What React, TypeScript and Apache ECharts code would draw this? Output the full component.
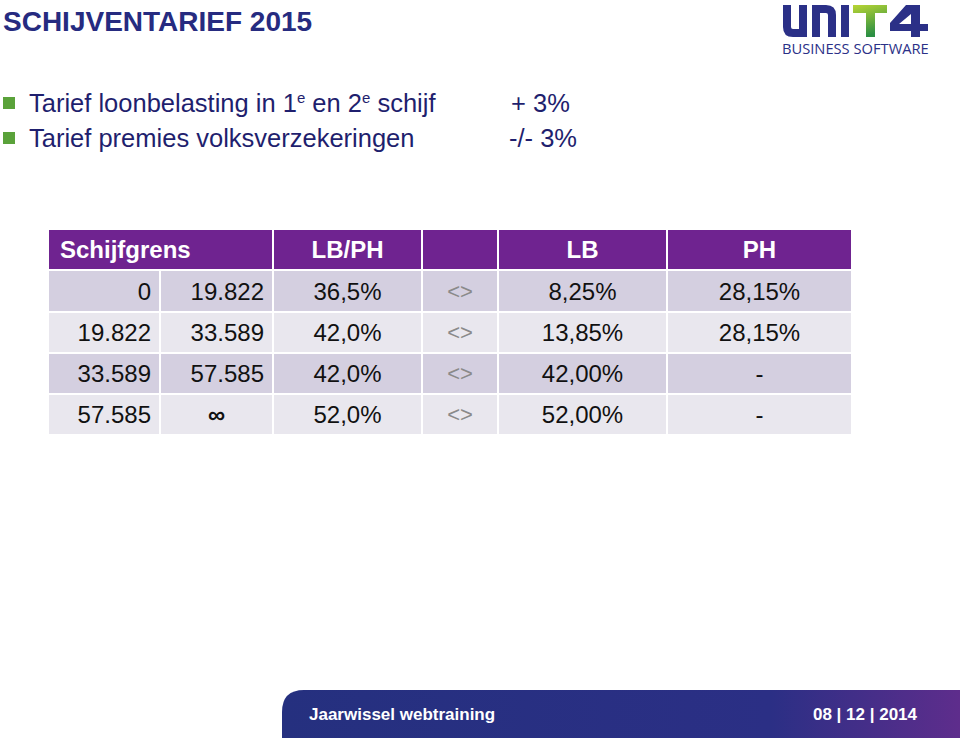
import React, { useEffect, useRef } from 'react';
import * as echarts from 'echarts';

// ---------- content ----------
const titleText = 'SCHIJVENTARIEF 2015';
const bulletLabels = [
  '{n|Tarief loonbelasting in 1}{s|e}{n| en 2}{s|e}{n| schijf}',
  '{n|Tarief premies volksverzekeringen}',
];
const bulletValues = ['+ 3%', '-/- 3%'];

const headerLabels = ['Schijfgrens', 'LB/PH', '', 'LB', 'PH'];
const bracketFrom = ['0', '19.822', '33.589', '57.585'];
const bracketTo = ['19.822', '33.589', '57.585', '∞'];
const rateLbPh = ['36,5%', '42,0%', '42,0%', '52,0%'];
const separatorSign = ['<>', '<>', '<>', '<>'];
const rateLb = ['8,25%', '13,85%', '42,00%', '52,00%'];
const ratePh = ['28,15%', '28,15%', '-', '-'];

const logoWord = 'BUSINESS SOFTWARE';
const footerLeft = 'Jaarwissel webtraining';
const footerRight = '08 | 12 | 2014';

// ---------- layout ----------
const FONT = '"Liberation Sans", Arial, Helvetica, sans-serif';
const NAVY = '#262b80';
const TEXT_NAVY = '#1f1f6e';
const colX = [48, 160, 273, 422, 498, 667, 852];
const rowY = [229, 270, 312, 353, 394, 435];
const headerSpans = [[0, 2], [2, 3], [3, 4], [4, 5], [5, 6]];
const colAlign = ['right', 'right', 'center', 'center', 'center', 'center'];

let shapesRegistered = false;
function registerShapes() {
  if (shapesRegistered) return;
  shapesRegistered = true;
  echarts.graphic.registerShape(
    'logoUni',
    echarts.graphic.extendPath(
      'M783 5 H791 V27 Q791 29 793 29 H799 V5 H807 V37 H793 Q783 37 783 27 Z ' +
        'M812 37 V5 H826 Q836 5 836 15 V37 H828 V15 Q828 13 826 13 H820 V37 Z ' +
        'M841 5 H849 V37 H841 Z ' +
        'M906 5 H920 V24 H928 V31 H920 V37 H911 V31 H890 V23 Z M911 14 L899 24 H911 Z',
      {}
    )
  );
  echarts.graphic.registerShape(
    'logoT',
    echarts.graphic.extendPath('M853 5 H887 V13 H875 V37 H866 V13 H853 Z', {})
  );
  echarts.graphic.registerShape(
    'footerBar',
    echarts.graphic.extendPath('M282 738 V712 Q282 690 304 690 H960 V738 Z', {})
  );
}

function textEl(x: number, y: number, text: string, opts: any) {
  return {
    type: 'text',
    x,
    y,
    silent: true,
    style: {
      text,
      fontFamily: FONT,
      textAlign: opts.align || 'left',
      align: opts.align || 'left',
      textVerticalAlign: 'middle',
      verticalAlign: 'middle',
      fontSize: opts.size,
      fontWeight: opts.weight || 'normal',
      fill: opts.fill,
      rich: opts.rich,
    },
  };
}

function buildOption() {
  const els: any[] = [];

  // Title
  els.push(textEl(3, 21, titleText, { size: 28, weight: 'bold', fill: NAVY }));

  // Logo
  els.push({ type: 'logoUni', x: 0, y: 0, silent: true, style: { fill: '#2b3087' } });
  els.push({
    type: 'logoT',
    x: 0,
    y: 0,
    silent: true,
    style: {
      fill: new echarts.graphic.LinearGradient(0, 0, 0.3, 1, [
        { offset: 0, color: '#b9d534' },
        { offset: 1, color: '#2c8f44' },
      ]),
    },
  });
  els.push({
    type: 'text',
    x: 782,
    y: 48,
    silent: true,
    style: {
      text: logoWord,
      fontFamily: '"Open Sans", "Noto Sans", sans-serif',
      fontSize: 14.7,
      fill: '#2b3087',
      align: 'left',
      textAlign: 'left',
      verticalAlign: 'middle',
      textVerticalAlign: 'middle',
    },
  });

  // Bullets
  const bulletY = [103, 138];
  bulletLabels.forEach((lab, i) => {
    const y = bulletY[i];
    els.push({ type: 'rect', silent: true, shape: { x: 3, y: y - 6, width: 12, height: 12 }, style: { fill: '#5aa23a' } });
    els.push(
      textEl(29, y, lab, {
        size: 25.5,
        fill: TEXT_NAVY,
        rich: {
          n: { fontSize: 25.5, fontFamily: FONT, fill: TEXT_NAVY, lineHeight: 26 },
          s: { fontSize: 15, fontFamily: FONT, fill: TEXT_NAVY, lineHeight: 15, verticalAlign: 'top' },
        },
      })
    );
    els.push(textEl(i === 0 ? 511 : 509, y, bulletValues[i], { size: 25.5, fill: TEXT_NAVY }));
  });

  // Table header
  headerSpans.forEach(([a, b], i) => {
    const x0 = colX[a] + 1;
    const x1 = colX[b] - 1;
    els.push({
      type: 'rect',
      silent: true,
      shape: { x: x0, y: rowY[0] + 1, width: x1 - x0, height: rowY[1] - rowY[0] - 2 },
      style: { fill: '#6f2390' },
    });
    const cy = (rowY[0] + rowY[1]) / 2;
    if (i === 0) {
      els.push(textEl(60, cy, headerLabels[i], { size: 24, weight: 'bold', fill: '#ffffff' }));
    } else if (headerLabels[i]) {
      els.push(textEl((x0 + x1) / 2, cy, headerLabels[i], { size: 24, weight: 'bold', fill: '#ffffff', align: 'center' }));
    }
  });

  // Table body
  bracketFrom.forEach((_, r) => {
    const cells = [bracketFrom[r], bracketTo[r], rateLbPh[r], separatorSign[r], rateLb[r], ratePh[r]];
    const y0 = rowY[r + 1] + 1;
    const y1 = rowY[r + 2] - 1;
    const cy = (y0 + y1) / 2;
    const fill = r % 2 === 0 ? '#d4cfe0' : '#e9e7ee';
    cells.forEach((val, c) => {
      const x0 = colX[c] + 1;
      const x1 = colX[c + 1] - 1;
      els.push({ type: 'rect', silent: true, shape: { x: x0, y: y0, width: x1 - x0, height: y1 - y0 }, style: { fill } });
      const isSep = c === 3;
      let align = colAlign[c];
      if (val === '∞') align = 'center';
      const tx = align === 'right' ? x1 - 8 : (x0 + x1) / 2;
      els.push(
        textEl(tx, cy, val, {
          size: isSep ? 22 : 24,
          fill: isSep ? '#8a8a8a' : '#111111',
          align,
          weight: val === '∞' ? 'bold' : 'normal',
        })
      );
    });
  });

  // Footer
  els.push({
    type: 'footerBar',
    x: 0,
    y: 0,
    silent: true,
    style: {
      fill: new echarts.graphic.LinearGradient(0, 0, 1, 0, [
        { offset: 0, color: '#25307f' },
        { offset: 0.72, color: '#2b2f85' },
        { offset: 1, color: '#5e2d8c' },
      ]),
    },
  });
  els.push(textEl(309, 714, footerLeft, { size: 17, weight: 'bold', fill: '#ffffff' }));
  els.push(textEl(917, 714, footerRight, { size: 17, weight: 'bold', fill: '#ffffff', align: 'right' }));

  return {
    animation: false,
    backgroundColor: '#ffffff',
    graphic: { elements: els },
  };
}

export default function App() {
  const ref = useRef<HTMLDivElement>(null);
  useEffect(() => {
    if (!ref.current) return;
    registerShapes();
    const chart = echarts.init(ref.current, null, { renderer: 'svg' });
    chart.setOption(buildOption() as any);
    return () => chart.dispose();
  }, []);
  return (
    <div
      ref={ref}
      style={{ position: 'fixed', left: 0, top: 0, width: 960, height: 738, background: '#ffffff' }}
    />
  );
}
